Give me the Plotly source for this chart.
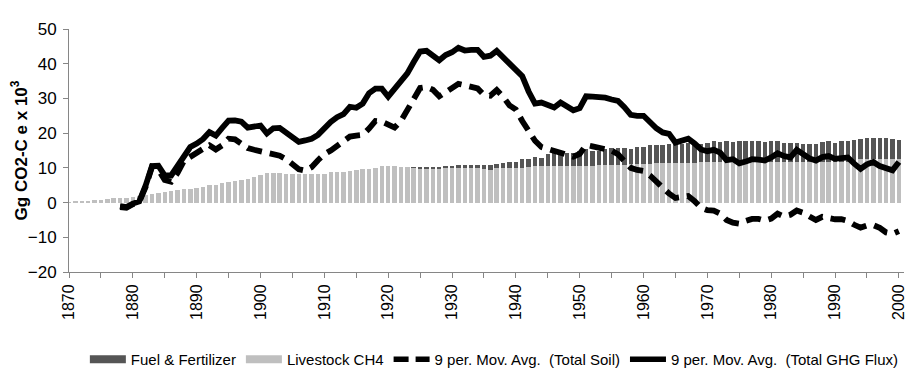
import plotly.graph_objects as go

years = list(range(1870, 2001))

livestock_ch4 = [
    0.1, 0.27, 0.36, 0.5, 0.6, 0.8, 1.0, 1.2, 1.35, 1.45,          # 1870-1879
    1.6, 2.0, 2.2, 2.4, 2.7, 3.0, 3.2, 3.5, 3.8, 4.0,              # 1880-1889
    4.3, 4.6, 5.0, 5.2, 5.6, 5.9, 6.2, 6.6, 6.9, 7.4,              # 1890-1899
    7.8, 8.4, 8.5, 8.4, 8.3, 8.3, 8.3, 8.3, 8.2, 8.2,              # 1900-1909
    8.3, 8.7, 8.8, 8.8, 9.0, 9.5, 9.7, 9.8, 9.9, 10.4,             # 1910-1919
    10.6, 10.5, 10.3, 10.3, 10.0, 9.9, 9.9, 9.9, 9.9, 10.0,        # 1920-1929
    10.0, 10.0, 10.0, 9.9, 9.9, 9.7, 9.5, 9.9, 10.0, 10.0,         # 1930-1939
    10.0, 10.1, 10.2, 10.4, 10.5, 10.6, 10.6, 10.6, 10.6, 10.6,    # 1940-1949
    10.6, 10.6, 10.6, 10.7, 10.7, 10.8, 10.9, 10.9, 11.0, 11.0,    # 1950-1959
    11.1, 11.2, 11.3, 11.3, 11.3, 11.4, 11.4, 11.5, 11.5, 11.6,    # 1960-1969
    11.6, 11.6, 11.6, 11.6, 11.6, 11.7, 11.7, 11.7, 11.7, 11.7,    # 1970-1979
    11.7, 11.7, 11.7, 11.7, 11.7, 11.7, 11.7, 11.7, 11.7, 11.7,    # 1980-1989
    11.7, 11.7, 11.7, 11.9, 12.5, 12.6, 12.6, 12.6, 12.6, 12.6,    # 1990-1999
    12.6,                                                          # 2000
]

fuel_fertilizer = [
    0, 0, 0, 0, 0, 0, 0, 0, 0, 0,                                  # 1870-1879
    0, 0, 0, 0, 0, 0, 0, 0, 0, 0,                                  # 1880-1889
    0, 0, 0, 0, 0, 0, 0, 0, 0, 0,                                  # 1890-1899
    0, 0, 0, 0, 0, 0, 0, 0, 0, 0,                                  # 1900-1909
    0, 0, 0, 0, 0, 0, 0, 0, 0, 0,                                  # 1910-1919
    0, 0, 0, 0, 0.2, 0.2, 0.2, 0.3, 0.4, 0.5,                      # 1920-1929
    0.5, 0.7, 0.7, 0.8, 0.8, 1.0, 1.2, 1.3, 1.4, 1.6,              # 1930-1939
    1.6, 2.5, 2.4, 2.8, 2.4, 3.3, 3.6, 3.8, 3.8, 3.6,              # 1940-1949
    4.4, 4.7, 4.2, 4.3, 4.6, 4.8, 4.7, 4.7, 4.5, 5.0,              # 1950-1959
    4.9, 5.3, 5.4, 5.2, 5.5, 5.4, 5.5, 5.6, 5.6, 5.4,              # 1960-1969
    5.5, 6.0, 5.9, 6.0, 5.9, 5.9, 6.0, 5.9, 6.0, 5.7,              # 1970-1979
    5.9, 5.9, 5.6, 5.6, 5.6, 5.3, 5.2, 5.3, 5.7, 5.9,              # 1980-1989
    5.6, 5.9, 6.1, 6.1, 5.9, 6.0, 6.0, 6.0, 5.9, 5.7,              # 1990-1999
    5.3,                                                           # 2000
]

# 9-period moving averages (start in 1878)
line_years = list(range(1878, 2001))

ma_total_soil = [
    -1.3, -1.5,                                                    # 1878-1879
    -0.5, 0.2, 4.5, 10.3, 9.5, 6.5, 6.0, 8.5, 12.0, 13.3,          # 1880-1889
    14.2, 15.5, 16.5, 15.3, 16.5, 18.4, 18.2, 17.0, 15.7, 15.2,    # 1890-1899
    14.8, 14.2, 13.9, 13.5, 12.5, 11.0, 9.6, 9.2, 10.2, 12.2,      # 1900-1909
    13.9, 15.0, 16.3, 17.5, 19.0, 19.3, 19.5, 21.3, 23.5, 23.3,    # 1910-1919
    22.5, 21.6, 23.5, 26.5, 30.0, 33.0, 33.3, 32.5, 30.6, 31.8,    # 1920-1929
    33.0, 34.2, 33.8, 33.3, 32.9, 31.0, 30.8, 32.4, 30.5, 28.0,    # 1930-1939
    26.8, 23.5, 20.5, 17.8, 16.0, 15.5, 14.8, 14.3, 13.8, 13.2,    # 1940-1949
    14.0, 16.6, 16.2, 15.9, 15.5, 15.0, 13.9, 12.0, 10.0, 9.4,     # 1950-1959
    9.1, 7.8, 6.0, 4.0, 2.6, 1.3, 1.8, 1.9, 0.4, -1.5,             # 1960-1969
    -2.2, -2.3, -3.2, -5.0, -5.8, -6.1, -5.3, -4.7, -4.7, -5.2,    # 1970-1979
    -4.6, -3.2, -4.0, -3.5, -2.3, -2.9, -4.0, -5.0, -4.1, -4.5,    # 1980-1989
    -4.8, -4.8, -5.3, -6.4, -7.2, -6.6, -6.5, -7.3, -8.6, -9.0,    # 1990-1999
    -8.2,                                                          # 2000
]

ma_total_ghg = [
    -1.0, -1.3,                                                    # 1878-1879
    -0.3, 0.3, 4.9, 10.5, 10.6, 7.8, 7.8, 10.5, 13.3, 16.0,        # 1880-1889
    17.0, 18.3, 20.3, 19.3, 21.5, 23.6, 23.7, 23.3, 21.6, 21.7,    # 1890-1899
    22.2, 19.9, 21.4, 21.5, 20.0, 18.5, 17.5, 17.9, 18.4, 19.5,    # 1900-1909
    21.5, 23.2, 24.6, 25.5, 27.6, 27.3, 28.5, 31.5, 32.8, 32.8,    # 1910-1919
    30.5, 32.8, 34.8, 37.2, 40.5, 43.5, 43.7, 42.2, 41.0, 42.5,    # 1920-1929
    43.3, 44.6, 43.8, 44.0, 44.0, 42.0, 42.3, 43.7, 41.8, 40.2,    # 1930-1939
    38.3, 36.4, 32.0, 28.5, 28.8, 28.0, 27.4, 28.8, 27.7, 26.6,    # 1940-1949
    27.2, 30.6, 30.5, 30.4, 30.2, 29.7, 29.3, 27.5, 25.3, 25.0,    # 1950-1959
    25.0, 23.2, 21.4, 20.2, 19.8, 17.3, 17.8, 18.4, 17.0, 15.3,    # 1960-1969
    14.8, 15.2, 14.4, 12.2, 12.5, 11.3, 11.8, 12.5, 12.4, 12.1,    # 1970-1979
    13.0, 14.2, 13.4, 13.0, 15.2, 14.0, 12.7, 12.1, 13.1, 13.4,    # 1980-1989
    12.6, 12.8, 13.0, 11.2, 9.7, 11.0, 11.7, 10.5, 9.8, 9.3,       # 1990-1999
    11.7,                                                          # 2000
]

x_tick_vals = list(range(1870, 2001, 10))
x_tick_text = [str(v) for v in x_tick_vals]
y_tick_vals = [-20, -10, 0, 10, 20, 30, 40, 50]
y_title = "<b>Gg CO2-C e x 10<sup>3</sup></b>"

DARK = "#555555"
LIGHT = "#BFBFBF"
AXIS = "#868686"
FONT = "Arial, 'Liberation Sans', sans-serif"

fig = go.Figure()

fig.add_trace(go.Bar(x=years, y=livestock_ch4, name="Livestock CH4",
                     marker=dict(color=LIGHT, line=dict(width=0)),
                     showlegend=False))
fig.add_trace(go.Bar(x=years, y=fuel_fertilizer, name="Fuel & Fertilizer",
                     marker=dict(color=DARK, line=dict(width=0)),
                     showlegend=False))
fig.add_trace(go.Scatter(x=line_years, y=ma_total_soil, mode="lines",
                         name="9 per. Mov. Avg.  (Total Soil)",
                         line=dict(color="black", width=5.8, dash="15px,8px"),
                         showlegend=False))
fig.add_trace(go.Scatter(x=line_years, y=ma_total_ghg, mode="lines",
                         name="9 per. Mov. Avg.  (Total GHG Flux)",
                         line=dict(color="black", width=5.8),
                         showlegend=False))

# legend entries (wide swatches like the original)
legend_items = [
    ("Fuel & Fertilizer", DARK, 8, "solid"),
    ("Livestock CH4", LIGHT, 8, "solid"),
    ("9 per. Mov. Avg.  (Total Soil)", "black", 5.5, "15px,7px"),
    ("9 per. Mov. Avg.  (Total GHG Flux)", "black", 5.5, "solid"),
]
for name, color, w, dash in legend_items:
    fig.add_trace(go.Scatter(x=[None], y=[None], mode="lines", name=name,
                             line=dict(color=color, width=w, dash=dash)))

fig.add_annotation(text=y_title, textangle=-90, xref="paper", yref="paper",
                   x=-0.06, y=0.5, xanchor="center", yanchor="middle",
                   showarrow=False, font=dict(family=FONT, size=17, color="black"))

fig.update_layout(
    width=916, height=380,
    margin=dict(l=61, r=20, t=13, b=107),
    barmode="stack", bargap=0.3,
    plot_bgcolor="white", paper_bgcolor="white",
    font=dict(family=FONT, color="black", size=15),
    showlegend=True,
    legend=dict(orientation="h", traceorder="normal",
                x=0.019, xanchor="left", y=-0.36, yanchor="middle",
                font=dict(family=FONT, size=15, color="black"),
                itemwidth=36, tracegroupgap=0, bgcolor="rgba(0,0,0,0)"),
    xaxis=dict(range=[1870, 2000.8], tickmode="array", tickvals=x_tick_vals,
               ticktext=x_tick_text, tickangle=-90, ticks="outside", ticklen=5,
               tickcolor=AXIS, showline=True, linecolor=AXIS, linewidth=1,
               showgrid=False, zeroline=False,
               tickfont=dict(family=FONT, size=16, color="black"),
               minor=dict(dtick=5, tick0=1870, ticks="outside", ticklen=5,
                          tickcolor=AXIS, showgrid=False)),
    yaxis=dict(range=[-20, 50], tickvals=y_tick_vals, ticks="outside", ticklen=5,
               tickcolor=AXIS, showline=True, linecolor=AXIS, linewidth=1,
               showgrid=False, zeroline=False, ticklabelstandoff=3,
               tickfont=dict(family=FONT, size=17, color="black")),
)

fig.write_html("out.html")
